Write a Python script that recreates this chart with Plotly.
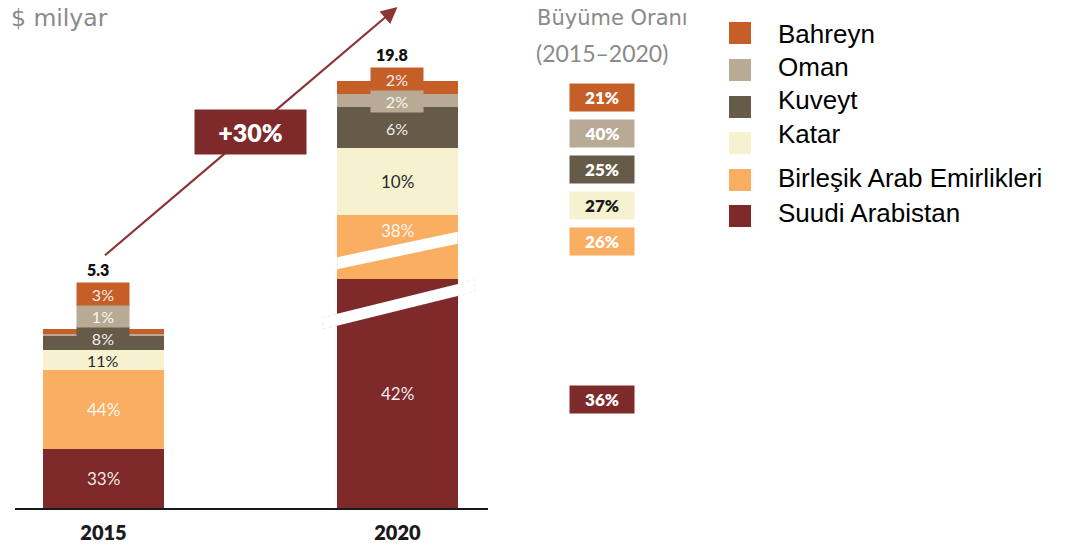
import plotly.graph_objects as go

# ---------------- data ----------------
years = ["2015", "2020"]
countries = ["Suudi Arabistan", "Birleşik Arab Emirlikleri", "Katar", "Kuveyt", "Oman", "Bahreyn"]  # bottom -> top
share_2015 = [33, 44, 11, 8, 1, 3]      # % of market
share_2020 = [42, 38, 10, 6, 2, 2]      # % of market
totals = [5.3, 19.8]                    # $ milyar
growth = [36, 26, 27, 25, 40, 21]       # CAGR 2015-2020, %
market_growth = 30                      # %
# axis break on the 2020 bar: $ milyar hidden behind the white break marks
break_2020 = [1.56, 5.62, 0, 0, 0, 0]

colors = ["#7e2a2b", "#f9ae62", "#f6f1cf", "#665a48", "#b8aa94", "#c55e27"]
dark_text = "Katar"

# ---------------- geometry ----------------
W, H = 1066, 546
L, R, T, B = 15, 578, 0, 38
PW, PH = W - L - R, H - T - B
YMAX = 15.0
S = PH / YMAX                      # px per $ milyar
X0, X1 = -0.301, 1.308
BAR_W = 0.41


def px_x(px):   # page px -> paper x
    return (px - L) / PW


def px_y(py):   # page px (from top) -> paper y
    return (H - B - py) / PH


shares = [share_2015, share_2020]
breaks = [[0] * 6, break_2020]
disp = [[s / 100 * t - b for s, b in zip(sh, br)] for sh, t, br in zip(shares, totals, breaks)]

fig = go.Figure()
for i, c in enumerate(countries):
    fig.add_trace(go.Bar(
        x=[0, 1], y=[disp[0][i], disp[1][i]], name=c,
        marker=dict(color=colors[i], line=dict(width=0)),
        width=BAR_W, showlegend=False,
        customdata=[shares[0][i], shares[1][i]],
        hovertemplate=c + ": %{customdata}%<extra></extra>",
    ))

annotations = []
shapes = []
LABEL_FONT = dict(family="Lato", size=16)
TAB_H, TAB_W, TAB_DROP = 22, 52, 0

for j in range(2):
    bottoms, cum = [], 0.0
    for v in disp[j]:
        bottoms.append(cum)
        cum += v
    small = [i for i in range(6) if disp[j][i] * S < 17]
    for i in range(6):
        if i in small:
            continue
        col = "#2a2a2a" if countries[i] == dark_text else "rgba(255,255,255,0.92)"
        size = 16 if (small and i == small[0] - 1) else 17
        if breaks[j][i] > 0 and disp[j][i] * S < 100:
            y, ys = bottoms[i] + disp[j][i], -16
        else:
            y, ys = bottoms[i] + disp[j][i] / 2, 0
        if small and i == small[0] - 1:
            ys -= 1
        annotations.append(dict(x=j, y=y, xref="x", yref="y", yshift=ys, showarrow=False,
                                xanchor="center", yanchor="middle",
                                text=f"{shares[j][i]}%", font=dict(LABEL_FONT, size=size, color=col)))
    if small:
        base = bottoms[small[0]]
        drop = TAB_DROP if j == 0 else 6
        for n, i in enumerate(small):
            annotations.append(dict(x=j, y=base, xref="x", yref="y", xanchor="center", yanchor="bottom",
                                    yshift=-drop + TAB_H * n, width=TAB_W, height=TAB_H,
                                    bgcolor=colors[i], borderpad=0, showarrow=False,
                                    text=f"{shares[j][i]}%",
                                    font=dict(LABEL_FONT, color="rgba(255,255,255,0.92)")))
        top_shift = max(-drop + TAB_H * len(small), (cum - base) * S)
    else:
        base, top_shift = cum, 0
    annotations.append(dict(x=j - 0.02, y=base, xref="x", yref="y", xanchor="center", yanchor="bottom",
                            yshift=top_shift + 3, showarrow=False, text=f"{totals[j]}",
                            font=dict(family="Lato", size=16, color="#111", weight=800)))

# break marks on the 2020 bar
ys0 = disp[1][0]          # top of Suudi Arabistan segment (displayed)
th = 6 / S


def stripe(xl, xr, yl, yr, edge):
    return dict(type="path", xref="x", yref="y", layer="above",
                path=f"M {xl},{yl - th} L {xr},{yr - th} L {xr},{yr + th} L {xl},{yl + th} Z",
                fillcolor="white", line=dict(width=1 if edge else 0, color="rgba(0,0,0,0.07)", dash="dot"))


shapes.append(stripe(1 - BAR_W / 2, 1 + BAR_W / 2, ys0 + 16 / S, ys0 + 41.5 / S, False))
shapes.append(stripe(1 - 0.2534, 1 + 0.2636, ys0 - 44 / S, ys0 - 6.5 / S, True))

# growth arrow
tail_y = sum(disp[0]) + 72 / S
tip_y = YMAX - 7 / S
annotations.append(dict(x=1, y=tip_y, ax=0, ay=tail_y, xref="x", yref="y", axref="x", ayref="y",
                        text="", showarrow=True, arrowhead=2, arrowsize=1.5, arrowwidth=2.2,
                        arrowcolor="#8b3536"))
annotations.append(dict(x=0.5, y=(tail_y + tip_y) / 2, xref="x", yref="y", showarrow=False,
                        xanchor="center", yanchor="middle",
                        text=f"+{market_growth}%", width=111, height=44, bgcolor="#7e2a2b",
                        borderpad=0, font=dict(family="Lato", size=25, color="white", weight=800)))

# growth-rate boxes
bae_c = disp[1][0] + disp[1][1] / 2
for i in range(6):
    if i == 0:
        y, ys = disp[1][0] / 2, -6
    else:
        y, ys = bae_c, 5 + 36 * (i - 1)
    col = "#1a1a1a" if countries[i] == dark_text else "white"
    annotations.append(dict(x=px_x(602), y=y, xref="paper", yref="y", yshift=ys, showarrow=False,
                            xanchor="center", yanchor="middle",
                            text=f"{growth[i]}%", width=64, height=27, bgcolor=colors[i], borderpad=0,
                            font=dict(family="Lato", size=17, color=col, weight=800)))

# headers
annotations += [
    dict(x=px_x(9), y=px_y(18), xref="paper", yref="paper", xanchor="left", yanchor="middle",
         showarrow=False, text="$ milyar", font=dict(family="DejaVu Sans", size=23.5, color="#8a8a8a")),
    dict(x=px_x(612), y=px_y(18), xref="paper", yref="paper", xanchor="center", yanchor="middle",
         showarrow=False, text="Büyüme Oranı", font=dict(family="DejaVu Sans", size=21, color="#8a8a8a")),
    dict(x=px_x(602), y=px_y(53), xref="paper", yref="paper", xanchor="center", yanchor="middle",
         showarrow=False, text="(2015–2020)", font=dict(family="Lato", size=23, color="#8a8a8a")),
]

# legend (top -> bottom)
sq_y = [33, 70, 107, 143, 180, 216]
tx_y = [34, 67, 100, 134, 178, 213]
for k, i in enumerate(reversed(range(6))):
    shapes.append(dict(type="rect", xref="paper", yref="paper",
                       x0=px_x(729), x1=px_x(751), y0=px_y(sq_y[k] + 11), y1=px_y(sq_y[k] - 11),
                       fillcolor=colors[i], line=dict(width=0)))
    annotations.append(dict(x=px_x(776), y=px_y(tx_y[k]), xref="paper", yref="paper",
                            xanchor="left", yanchor="middle", showarrow=False, text=countries[i],
                            font=dict(family="Liberation Sans", size=26, color="black")))

fig.update_layout(
    width=W, height=H, barmode="stack", bargap=0,
    margin=dict(l=L, r=R, t=T, b=B, autoexpand=False),
    paper_bgcolor="white", plot_bgcolor="white",
    showlegend=False,
    annotations=annotations, shapes=shapes,
    xaxis=dict(range=[X0, X1], tickvals=[0, 1], ticktext=years, showline=True,
               linecolor="#1a1a1a", linewidth=2, ticks="", showgrid=False, zeroline=False,
               tickfont=dict(family="Lato", size=20, color="#1a1a1a", weight=800),
               automargin=False, ticklabelstandoff=6),
    yaxis=dict(range=[0, YMAX], visible=False, automargin=False),
)

fig.write_html("out.html", config={"displayModeBar": False},
               post_script="document.body.style.margin='0';document.body.style.overflow='hidden';")
